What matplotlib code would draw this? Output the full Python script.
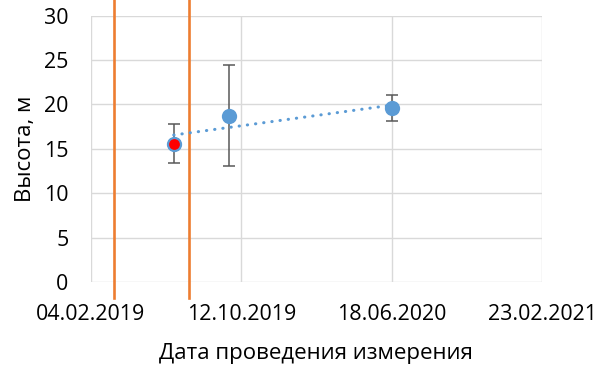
import numpy as np
import matplotlib
matplotlib.use('Agg')
import matplotlib.pyplot as plt
import matplotlib.dates as mdates

plt.rcParams['font.family'] = ['Open Sans', 'DejaVu Sans']

# measurements: date, mean height and spread
meas_dates = ['2019-06-22', '2019-09-22', '2020-06-18']
heights = [15.56, 18.75, 19.58]
height_err = [2.2, 5.7, 1.47]
highlight_idx = 0

# marker lines for the period boundaries
bound_dates = ['2019-03-15', '2019-07-18']

x_min, x_max = '2019-02-04', '2021-02-23'
x_ticks = ['2019-02-04', '2019-10-12', '2020-06-18', '2021-02-23']
y_ticks = [0, 5, 10, 15, 20, 25, 30]

blue = '#5B9BD5'
orange = '#ED7D31'
grid_col = '#D9D9D9'

def to_num(dates):
    return mdates.date2num(np.array(dates, dtype='datetime64[D]'))

x = to_num(meas_dates)
y = np.array(heights)

fig = plt.figure(figsize=(5.99, 3.66), dpi=100)
ax = fig.add_axes([0.1514, 0.2295, 0.7536, 0.7276])

ax.set_xlim(to_num([x_min])[0], to_num([x_max])[0])
ax.set_ylim(0, 30)
ax.set_xticks(to_num(x_ticks))
ax.set_yticks(y_ticks)
ax.xaxis.set_major_formatter(mdates.DateFormatter('%d.%m.%Y'))

ax.grid(True, color=grid_col, linewidth=1.0)
ax.set_axisbelow(True)
for s in ax.spines.values():
    s.set_visible(False)
ax.tick_params(length=0, labelsize=15.4, colors='black')
ax.tick_params(axis='y', pad=16)
ax.tick_params(axis='x', pad=15.5)

# vertical boundaries run past the plot area
for d in to_num(bound_dates):
    ax.plot([d, d], [-1.8, 33], color=orange, linewidth=1.9, clip_on=False, zorder=2)

# error bars and points
ax.errorbar(x, y, yerr=height_err, fmt='none', ecolor='#595959',
            elinewidth=1.1, capsize=4.5, capthick=1.1, zorder=3)
ax.plot(x, y, 'o', color=blue, markersize=11, markeredgewidth=0, zorder=4)
ax.plot(x[highlight_idx], y[highlight_idx], 'o', color='red', markersize=9,
        markeredgecolor=blue, markeredgewidth=1.2, zorder=5)

# linear trend
k, b = np.polyfit(x, y, 1)
tx = np.array([x.min(), x.max()])
ax.plot(tx, k * tx + b, color=blue, linewidth=2.2, linestyle=(0, (0.1, 2.6)),
        dash_capstyle='round', zorder=6)

ax.set_xlabel('Дата проведения измерения', fontsize=16, labelpad=13)
ax.set_ylabel('Высота, м', fontsize=16, labelpad=6)

fig.savefig('out.png', dpi=100)
